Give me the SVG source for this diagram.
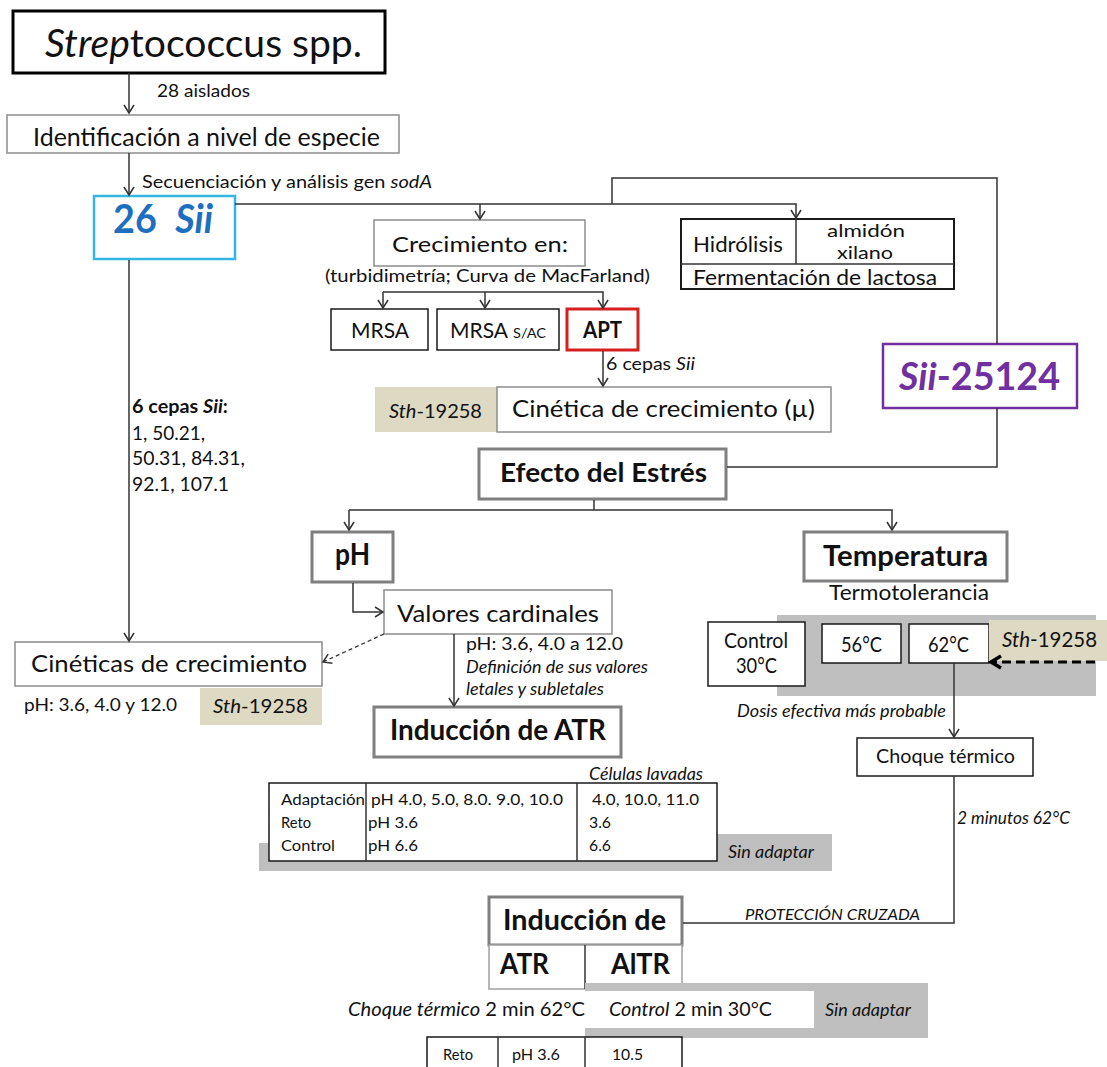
<svg xmlns="http://www.w3.org/2000/svg" width="1107" height="1067" viewBox="0 0 1107 1067">
  <style>
    text { font-family: Lato, "Liberation Sans", sans-serif; fill: #111; }
    .b { font-weight: bold; }
    .i { font-style: italic; }
    .box { fill: #fff; stroke: #8c8c8c; stroke-width: 1.5; }
    .boxk { fill: #fff; stroke: #1a1a1a; stroke-width: 1.5; }
    .boxh { fill: #fff; stroke: #7f7f7f; stroke-width: 3; }
    .tan { fill: #ddd9c3; }
    .shade { fill: #bfbfbf; }
    .ln { fill: none; stroke: #333; stroke-width: 1.5; }
    .arr { fill: none; stroke: #333; stroke-width: 1.5; marker-end: url(#open); }
    .dash { fill: none; stroke: #333; stroke-width: 1.3; stroke-dasharray: 4 3; marker-end: url(#open); }
    .dashk { fill: none; stroke: #000; stroke-width: 3; stroke-dasharray: 9 5; marker-end: url(#thick); }
  </style>
  <defs>
    <marker id="open" markerUnits="userSpaceOnUse" markerWidth="14" markerHeight="14" refX="10" refY="7" orient="auto">
      <path d="M2,2 L10,7 L2,12" fill="none" stroke="#333" stroke-width="1.5"/>
    </marker>
    <marker id="thick" markerUnits="userSpaceOnUse" markerWidth="18" markerHeight="18" refX="14" refY="9" orient="auto">
      <path d="M4,3 L14,9 L4,15" fill="none" stroke="#000" stroke-width="3.5"/>
    </marker>
  </defs>

  <rect width="1107" height="1067" fill="#fff"/>

  <!-- background shading -->
  <g id="shading">
    <rect class="shade" x="777" y="615" width="319" height="81"/>
    <rect class="shade" x="259" y="843" width="573" height="28"/>
    <rect class="shade" x="717" y="834" width="115" height="37"/>
  </g>

  <g id="n-strep">
    <rect x="13" y="11" width="372" height="62" fill="#fff" stroke="#000" stroke-width="3"/>
    <text x="45" y="57" font-size="38" textLength="317" lengthAdjust="spacingAndGlyphs"><tspan class="i">Strep</tspan>tococcus spp.</text>
  </g>
  <text x="157" y="97" font-size="18" textLength="93" lengthAdjust="spacingAndGlyphs">28 aislados</text>

  <g id="n-ident">
    <rect class="box" x="7" y="115" width="392" height="38"/>
    <text x="33" y="146" font-size="25" textLength="347" lengthAdjust="spacingAndGlyphs">Identificación a nivel de especie</text>
  </g>
  <text x="142" y="188" font-size="18" textLength="290" lengthAdjust="spacingAndGlyphs">Secuenciación y análisis gen <tspan class="i">sodA</tspan></text>

  <g id="n-26sii">
    <rect x="94" y="196" width="141" height="63" fill="#fff" stroke="#33b5e5" stroke-width="2.5"/>
    <text x="113" y="233" font-size="40" class="b" style="fill:#1f6fbf" xml:space="preserve" textLength="100" lengthAdjust="spacingAndGlyphs">26  <tspan class="i">Sii</tspan></text>
  </g>

  <g id="n-crecimiento">
    <rect class="box" x="374" y="220" width="211" height="46"/>
    <text x="392" y="252" font-size="22" textLength="176" lengthAdjust="spacingAndGlyphs">Crecimiento en:</text>
  </g>
  <text x="325" y="282" font-size="18" textLength="325" lengthAdjust="spacingAndGlyphs">(turbidimetría; Curva de MacFarland)</text>

  <g id="n-mrsa">
    <rect class="boxk" x="331" y="309" width="97" height="41"/>
    <text x="351" y="338" font-size="22" textLength="58" lengthAdjust="spacingAndGlyphs">MRSA</text>
  </g>
  <g id="n-mrsa-sac">
    <rect class="boxk" x="437" y="309" width="122" height="41"/>
    <text x="450" y="338" font-size="22" textLength="58" lengthAdjust="spacingAndGlyphs">MRSA</text>
    <text x="513" y="338" font-size="13" textLength="33" lengthAdjust="spacingAndGlyphs">S/AC</text>
  </g>
  <g id="n-apt">
    <rect x="567" y="309" width="71" height="41" fill="#fff" stroke="#d62020" stroke-width="3"/>
    <text x="583" y="338" font-size="22" class="b" textLength="39" lengthAdjust="spacingAndGlyphs">APT</text>
  </g>
  <text x="606" y="370" font-size="18" textLength="89" lengthAdjust="spacingAndGlyphs">6 cepas <tspan class="i">Sii</tspan></text>

  <g id="n-cinetica-mu">
    <rect class="tan" x="375" y="387" width="122" height="45"/>
    <text x="389" y="418" font-size="20" textLength="93" lengthAdjust="spacingAndGlyphs"><tspan class="i">Sth</tspan>-19258</text>
    <rect class="box" x="497" y="387" width="334" height="45"/>
    <text x="512" y="417" font-size="24" textLength="303" lengthAdjust="spacingAndGlyphs">Cinética de crecimiento (µ)</text>
  </g>

  <g id="n-hidrolisis">
    <rect x="681" y="219" width="273" height="70" fill="#fff" stroke="#1a1a1a" stroke-width="2"/>
    <path class="ln" d="M681,264 H954 M796,219 V264" stroke="#1a1a1a"/>
    <text x="693" y="252" font-size="21" textLength="90" lengthAdjust="spacingAndGlyphs">Hidrólisis</text>
    <text x="827" y="237" font-size="18" textLength="78" lengthAdjust="spacingAndGlyphs">almidón</text>
    <text x="837" y="259" font-size="18" textLength="56" lengthAdjust="spacingAndGlyphs">xilano</text>
    <text x="693" y="285" font-size="21" textLength="244" lengthAdjust="spacingAndGlyphs">Fermentación de lactosa</text>
  </g>

  <g id="n-sii25124">
    <rect x="883" y="344" width="194" height="64" fill="#fff" stroke="#7030a0" stroke-width="2.5"/>
    <text x="899" y="390" font-size="38" class="b" style="fill:#7030a0" textLength="161" lengthAdjust="spacingAndGlyphs"><tspan class="i">Sii</tspan>-25124</text>
  </g>

  <g id="lbl-cepas" font-size="19">
    <text x="132" y="413" class="b" textLength="96" lengthAdjust="spacingAndGlyphs">6 cepas <tspan class="i">Sii</tspan>:</text>
    <text x="132" y="440" textLength="73" lengthAdjust="spacingAndGlyphs">1, 50.21,</text>
    <text x="132" y="465" textLength="113" lengthAdjust="spacingAndGlyphs">50.31, 84.31,</text>
    <text x="132" y="491" textLength="97" lengthAdjust="spacingAndGlyphs">92.1, 107.1</text>
  </g>

  <g id="n-efecto">
    <rect class="boxh" x="479" y="449" width="247" height="50"/>
    <text x="500" y="482" font-size="26" class="b" textLength="207" lengthAdjust="spacingAndGlyphs">Efecto del Estrés</text>
  </g>

  <g id="n-ph">
    <rect class="boxh" x="312" y="532" width="81" height="50"/>
    <text x="335" y="565" font-size="30" class="b" textLength="35" lengthAdjust="spacingAndGlyphs">pH</text>
  </g>

  <g id="n-valores">
    <rect class="box" x="384" y="590" width="228" height="44"/>
    <text x="397" y="622" font-size="24" textLength="202" lengthAdjust="spacingAndGlyphs">Valores cardinales</text>
  </g>
  <text x="466" y="650" font-size="18" textLength="157" lengthAdjust="spacingAndGlyphs">pH: 3.6, 4.0 a 12.0</text>
  <text x="466" y="673" font-size="17" class="i" textLength="182" lengthAdjust="spacingAndGlyphs">Definición de sus valores</text>
  <text x="466" y="695" font-size="17" class="i" textLength="138" lengthAdjust="spacingAndGlyphs">letales y subletales</text>

  <g id="n-cineticas">
    <rect class="box" x="15" y="642" width="307" height="44"/>
    <text x="31" y="672" font-size="24" textLength="276" lengthAdjust="spacingAndGlyphs">Cinéticas de crecimiento</text>
    <rect class="tan" x="200" y="688" width="122" height="37"/>
    <text x="213" y="713" font-size="20" textLength="95" lengthAdjust="spacingAndGlyphs"><tspan class="i">Sth</tspan>-19258</text>
  </g>
  <text x="24" y="711" font-size="18" textLength="153" lengthAdjust="spacingAndGlyphs">pH: 3.6, 4.0 y 12.0</text>

  <g id="n-atr">
    <rect class="boxh" x="374" y="707" width="247" height="50"/>
    <text x="390" y="740" font-size="28" class="b" textLength="216" lengthAdjust="spacingAndGlyphs">Inducción de ATR</text>
  </g>

  <g id="n-temperatura">
    <rect class="boxh" x="804" y="532" width="203" height="49"/>
    <text x="823" y="566" font-size="28" class="b" textLength="165" lengthAdjust="spacingAndGlyphs">Temperatura</text>
  </g>
  <text x="829" y="600" font-size="21" textLength="160" lengthAdjust="spacingAndGlyphs">Termotolerancia</text>

  <g id="n-control30">
    <rect class="boxk" x="708" y="622" width="97" height="64"/>
    <text x="724" y="648" font-size="21" textLength="64" lengthAdjust="spacingAndGlyphs">Control</text>
    <text x="736" y="673" font-size="21" textLength="41" lengthAdjust="spacingAndGlyphs">30°C</text>
  </g>
  <g id="n-56">
    <rect class="boxk" x="822" y="624" width="79" height="39"/>
    <text x="841" y="652" font-size="21" textLength="41" lengthAdjust="spacingAndGlyphs">56°C</text>
  </g>
  <g id="n-62">
    <rect class="boxk" x="909" y="624" width="80" height="39"/>
    <text x="928" y="652" font-size="21" textLength="41" lengthAdjust="spacingAndGlyphs">62°C</text>
  </g>
  <g id="n-sth-temp">
    <rect class="tan" x="989" y="620" width="118" height="41"/>
    <text x="1002" y="647" font-size="21" textLength="95" lengthAdjust="spacingAndGlyphs"><tspan class="i">Sth</tspan>-19258</text>
  </g>
  <text x="737" y="717" font-size="18" class="i" textLength="209" lengthAdjust="spacingAndGlyphs">Dosis efectiva más probable</text>

  <g id="n-choque">
    <rect class="boxk" x="857" y="738" width="176" height="38"/>
    <text x="876" y="763" font-size="20" textLength="139" lengthAdjust="spacingAndGlyphs">Choque térmico</text>
  </g>
  <text x="957" y="824" font-size="17" class="i" textLength="113" lengthAdjust="spacingAndGlyphs">2 minutos 62°C</text>

  <g id="n-tabla-atr" font-size="16">
    <text x="589" y="780" font-size="17" class="i" textLength="114" lengthAdjust="spacingAndGlyphs">Células lavadas</text>
    <rect class="boxk" x="269" y="783" width="448" height="78"/>
    <path class="ln" d="M366,783 V861 M577,783 V861" stroke="#1a1a1a"/>
    <text x="281" y="805" textLength="84" lengthAdjust="spacingAndGlyphs">Adaptación</text>
    <text x="281" y="828" textLength="30" lengthAdjust="spacingAndGlyphs">Reto</text>
    <text x="281" y="851" textLength="54" lengthAdjust="spacingAndGlyphs">Control</text>
    <text x="371" y="805" textLength="192" lengthAdjust="spacingAndGlyphs">pH 4.0, 5.0, 8.0. 9.0, 10.0</text>
    <text x="368" y="828" textLength="50" lengthAdjust="spacingAndGlyphs">pH 3.6</text>
    <text x="368" y="851" textLength="50" lengthAdjust="spacingAndGlyphs">pH 6.6</text>
    <text x="592" y="805" textLength="107" lengthAdjust="spacingAndGlyphs">4.0, 10.0, 11.0</text>
    <text x="589" y="828" textLength="22" lengthAdjust="spacingAndGlyphs">3.6</text>
    <text x="589" y="851" textLength="22" lengthAdjust="spacingAndGlyphs">6.6</text>
    <text x="728" y="858" font-size="18" class="i" textLength="86" lengthAdjust="spacingAndGlyphs">Sin adaptar</text>
  </g>

  <g id="n-induccion">
    <rect class="boxh" x="489" y="897" width="193" height="48"/>
    <text x="503" y="930" font-size="28" class="b" textLength="163" lengthAdjust="spacingAndGlyphs">Inducción de</text>
    <rect x="489" y="945" width="193" height="44" fill="#fff" stroke="#a0a0a0" stroke-width="1.5"/>
    <path d="M585,945 V989" stroke="#333" stroke-width="1.5"/>
    <text x="500" y="974" font-size="28" class="b" textLength="49" lengthAdjust="spacingAndGlyphs">ATR</text>
    <text x="611" y="974" font-size="28" class="b" textLength="59" lengthAdjust="spacingAndGlyphs">AlTR</text>
  </g>
  <text x="745" y="920" font-size="15" class="i" textLength="175" lengthAdjust="spacingAndGlyphs">PROTECCIÓN CRUZADA</text>

  <g id="n-condiciones">
    <rect class="shade" x="585" y="983" width="343" height="55"/>
    <rect x="585" y="991" width="229" height="37" fill="#fff"/>
    <text x="348" y="1016" font-size="19" textLength="237" lengthAdjust="spacingAndGlyphs"><tspan class="i">Choque térmico</tspan> 2 min 62°C</text>
    <text x="609" y="1016" font-size="19" textLength="163" lengthAdjust="spacingAndGlyphs"><tspan class="i">Control</tspan> 2 min 30°C</text>
    <text x="825" y="1016" font-size="18" class="i" textLength="86" lengthAdjust="spacingAndGlyphs">Sin adaptar</text>
  </g>

  <g id="n-tabla-reto" font-size="16">
    <rect class="boxk" x="427" y="1037" width="255" height="40"/>
    <path class="ln" d="M498,1037 V1077 M585,1037 V1077" stroke="#1a1a1a"/>
    <text x="443" y="1060" textLength="30" lengthAdjust="spacingAndGlyphs">Reto</text>
    <text x="512" y="1060" textLength="48" lengthAdjust="spacingAndGlyphs">pH 3.6</text>
    <text x="612" y="1060" textLength="31" lengthAdjust="spacingAndGlyphs">10.5</text>
  </g>

  <!-- connectors, drawn last so arrowheads sit on top of the boxes -->
  <g id="connectors">
    <path class="arr" d="M129,73 V113"/>
    <path class="arr" d="M129,153 V195"/>
    <path class="arr" d="M235,204 H796 V218"/>
    <path class="arr" d="M480,204 V219"/>
    <path class="ln" d="M612,204 V178 H997 V344"/>
    <path class="ln" d="M997,408 V467 H727"/>
    <path class="arr" d="M129,260 V641"/>
    <path class="arr" d="M383,292 V308"/>
    <path class="arr" d="M383,292 H603 V308"/>
    <path class="arr" d="M485,292 V308"/>
    <path class="arr" d="M603,351 V386"/>
    <path class="ln" d="M594,500 V510"/>
    <path class="arr" d="M349,510 V530"/>
    <path class="arr" d="M349,510 H892 V530"/>
    <path class="arr" d="M353,583 V612 H383"/>
    <path class="dash" d="M384,634 L323,662"/>
    <path class="arr" d="M454,634 V706"/>
    <path class="arr" d="M954,663 V737"/>
    <path class="dashk" d="M1095,662 H991"/>
    <path class="ln" d="M954,776 V923 H683"/>
  </g>
</svg>
